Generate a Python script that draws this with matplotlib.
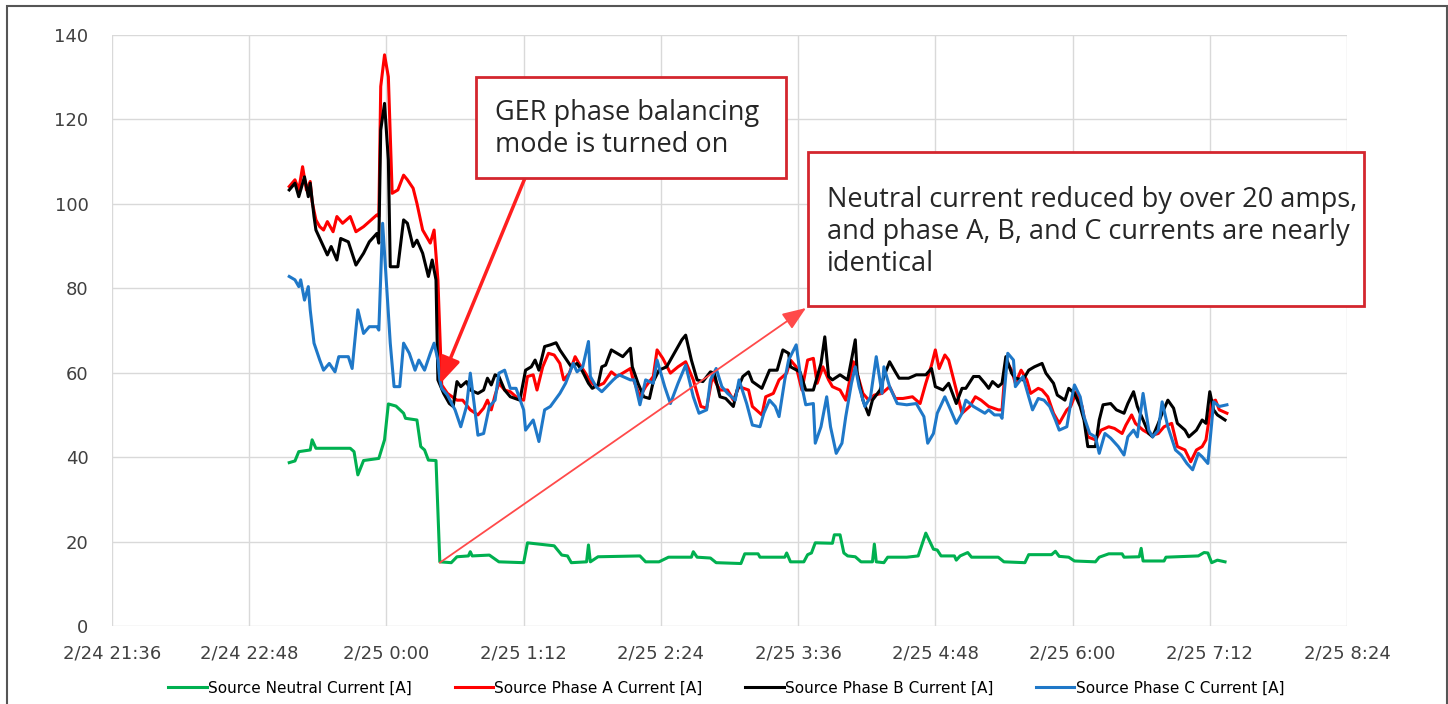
import numpy as np
import pandas as pd
import matplotlib
matplotlib.use("Agg")
import matplotlib.pyplot as plt
import matplotlib.dates as mdates
from matplotlib.patches import Rectangle

# time axis: minutes relative to 2/25 0:00
midnight = pd.Timestamp("2021-02-25 00:00")

tick_minutes = [-144, -72, 0, 72, 144, 216, 288, 360, 432, 504]
tick_labels = ["2/24 21:36", "2/24 22:48", "2/25 0:00", "2/25 1:12", "2/25 2:24",
               "2/25 3:36", "2/25 4:48", "2/25 6:00", "2/25 7:12", "2/25 8:24"]
y_ticks = [0, 20, 40, 60, 80, 100, 120, 140]

series_names = ["Source Neutral Current [A]", "Source Phase A Current [A]",
                "Source Phase B Current [A]", "Source Phase C Current [A]"]
series_colors = ["#00b050", "#ff0000", "#000000", "#1f78c8"]

neutral_t = [-51, -48, -46, -40, -39, -37, -19, -17, -15, -12,
             -4, -1, 1, 5, 9, 10, 16, 18, 20, 22,
             26, 28, 34, 37, 43, 44, 45, 54, 59, 72,
             74, 80, 88, 92, 95, 97, 105, 106, 107, 111,
             133, 136, 143, 148, 160, 161, 163, 170, 173, 186,
             188, 195, 196, 209, 210, 212, 219, 221, 223, 225,
             234, 235, 238, 240, 242, 246, 249, 255, 256, 257,
             261, 263, 273, 279, 283, 287, 289, 291, 298, 299,
             301, 305, 307, 321, 324, 335, 337, 349, 351, 353,
             358, 361, 372, 374, 379, 386, 387, 395, 396, 397,
             408, 409, 426, 429, 431, 433, 436, 440]
neutral_a = [38.7, 39.1, 41.3, 41.7, 44.1, 42.1, 42.1, 41.3, 35.8, 39.2,
             39.7, 44.1, 52.6, 52.1, 50.4, 49.2, 48.8, 42.5, 41.7, 39.3,
             39.2, 15.2, 15.0, 16.4, 16.6, 17.6, 16.6, 16.8, 15.2, 15.0,
             19.7, 19.4, 19.0, 16.8, 16.6, 15.0, 15.2, 19.2, 15.2, 16.4,
             16.6, 15.2, 15.2, 16.3, 16.3, 17.6, 16.3, 16.1, 15.0, 14.8,
             17.1, 17.1, 16.3, 16.3, 17.3, 15.2, 15.2, 16.9, 17.3, 19.7,
             19.6, 21.6, 21.6, 17.3, 16.6, 16.4, 15.2, 15.2, 19.4, 15.2,
             15.0, 16.3, 16.3, 16.6, 22.0, 18.2, 18.0, 16.6, 16.6, 15.6,
             16.6, 17.4, 16.3, 16.3, 15.2, 15.0, 16.9, 16.9, 17.7, 16.5,
             16.3, 15.4, 15.2, 16.3, 17.1, 17.1, 16.3, 16.4, 18.4, 15.4,
             15.4, 16.3, 16.6, 17.4, 17.3, 15.0, 15.6, 15.2]

phase_a_t = [-51, -48, -46, -44, -42, -40, -39, -37, -35, -33,
             -31, -28, -26, -23, -19, -16, -12, -9, -5, -4,
             -3, -1, 1, 3, 6, 9, 11, 14, 16, 19,
             23, 25, 27, 29, 32, 37, 40, 44, 48, 51,
             53, 55, 57, 59, 62, 65, 69, 72, 74, 77,
             79, 82, 85, 88, 91, 93, 96, 99, 101, 104,
             107, 110, 114, 118, 121, 128, 129, 133, 136, 140,
             142, 145, 149, 153, 157, 161, 165, 168, 171, 175,
             179, 182, 185, 190, 192, 197, 199, 203, 206, 210,
             212, 215, 218, 221, 224, 226, 229, 232, 234, 238,
             241, 245, 246, 250, 253, 256, 260, 264, 267, 271,
             276, 280, 283, 286, 288, 290, 293, 295, 299, 302,
             306, 309, 312, 316, 321, 323, 325, 328, 330, 333,
             336, 338, 342, 344, 347, 350, 353, 357, 359, 362,
             365, 368, 372, 375, 379, 382, 386, 388, 391, 393,
             397, 400, 402, 405, 408, 412, 415, 419, 422, 425,
             428, 430, 433, 435, 437, 441]
phase_a = [104.1, 105.7, 103.3, 108.8, 103.3, 105.3, 100.5, 96.2, 94.6, 93.8,
           95.8, 93.4, 97.0, 95.4, 97.0, 93.4, 94.6, 95.8, 97.4, 97.0,
           127.8, 135.3, 130.1, 102.5, 103.3, 106.8, 105.7, 103.7, 100.1, 93.8,
           90.7, 93.8, 82.0, 57.1, 55.1, 53.5, 53.5, 51.2, 50.0, 51.6,
           53.5, 51.2, 54.7, 57.5, 55.9, 55.5, 53.9, 53.5, 59.1, 59.5,
           55.9, 61.4, 64.6, 64.2, 62.2, 58.3, 59.9, 63.8, 62.2, 60.2,
           57.9, 56.7, 57.5, 60.2, 59.1, 61.0, 59.1, 54.3, 56.7, 59.1,
           65.4, 63.4, 59.9, 61.4, 62.6, 58.3, 52.0, 51.6, 59.1, 55.9,
           55.9, 53.5, 56.7, 55.9, 52.0, 50.0, 54.3, 55.1, 58.3, 59.9,
           63.0, 61.4, 55.9, 63.0, 63.4, 57.5, 61.4, 58.3, 56.7, 55.9,
           53.5, 62.6, 61.4, 55.1, 53.5, 54.7, 55.1, 56.7, 53.9, 53.9,
           54.3, 52.7, 57.5, 61.8, 65.4, 61.0, 64.2, 63.0, 55.9, 50.4,
           52.0, 54.3, 53.5, 52.0, 51.2, 51.2, 63.0, 60.6, 57.5, 60.6,
           58.3, 55.1, 56.3, 55.9, 54.3, 50.4, 48.0, 51.2, 52.0, 55.5,
           52.0, 44.8, 44.1, 46.4, 47.2, 46.8, 45.6, 47.6, 50.0, 48.0,
           46.4, 45.6, 45.2, 45.6, 47.2, 48.0, 42.5, 41.7, 38.9, 41.7,
           42.5, 44.1, 53.1, 53.5, 51.2, 50.4]

phase_b_t = [-51, -48, -46, -43, -41, -40, -38, -37, -33, -31,
             -29, -26, -24, -20, -16, -12, -9, -5, -4, -3,
             -1, 1, 2, 6, 9, 11, 14, 16, 19, 22,
             24, 26, 27, 30, 33, 35, 37, 39, 42, 44,
             48, 51, 53, 55, 57, 59, 62, 65, 70, 73,
             76, 78, 80, 83, 86, 89, 91, 94, 97, 100,
             103, 106, 108, 111, 113, 115, 118, 121, 124, 128,
             129, 132, 135, 138, 140, 143, 147, 151, 155, 157,
             160, 163, 166, 170, 172, 175, 178, 182, 184, 187,
             190, 192, 197, 201, 205, 208, 211, 212, 217, 220,
             224, 228, 230, 232, 234, 238, 242, 246, 247, 250,
             253, 255, 259, 261, 264, 267, 269, 274, 278, 283,
             286, 288, 292, 295, 299, 302, 304, 308, 311, 314,
             316, 318, 321, 323, 325, 328, 330, 334, 337, 340,
             344, 346, 350, 352, 356, 358, 361, 364, 366, 368,
             372, 374, 376, 380, 383, 387, 389, 392, 394, 397,
             400, 402, 405, 407, 410, 413, 415, 419, 421, 425,
             428, 430, 432, 434, 436, 440]
phase_b = [103.3, 104.9, 101.7, 106.4, 101.7, 104.9, 97.0, 93.8, 89.9, 87.9,
           89.9, 86.7, 91.8, 91.0, 85.5, 88.3, 91.0, 93.0, 90.7, 117.5,
           123.8, 110.4, 85.1, 85.1, 96.2, 95.4, 89.9, 91.4, 88.3, 82.8,
           86.7, 82.0, 58.3, 55.1, 52.7, 52.0, 57.9, 56.7, 57.9, 55.9,
           55.1, 55.9, 58.7, 57.1, 59.5, 59.1, 55.9, 54.3, 53.5, 60.6,
           61.4, 63.0, 60.6, 66.2, 66.6, 67.1, 65.4, 63.4, 61.4, 62.2,
           60.2, 57.5, 56.3, 57.1, 61.4, 61.8, 65.4, 64.6, 63.8, 65.8,
           61.4, 57.5, 54.3, 53.9, 57.9, 60.6, 61.4, 64.6, 67.8, 68.9,
           63.0, 58.3, 57.9, 60.2, 59.9, 54.3, 53.9, 52.0, 55.9, 59.1,
           60.2, 57.9, 56.3, 60.6, 60.6, 65.4, 64.6, 61.4, 60.2, 55.9,
           55.9, 62.2, 68.5, 59.1, 58.3, 59.5, 58.3, 67.8, 59.9, 53.5,
           50.0, 53.5, 55.9, 59.1, 62.6, 60.2, 58.7, 58.7, 59.5, 59.5,
           61.0, 56.7, 55.9, 57.5, 52.7, 56.3, 56.3, 59.1, 59.1, 57.5,
           56.3, 57.9, 56.7, 57.5, 63.8, 59.9, 58.7, 58.3, 60.6, 61.4,
           62.2, 59.9, 57.5, 54.7, 53.5, 56.3, 55.1, 52.0, 48.8, 42.5,
           42.5, 48.8, 52.4, 52.7, 51.2, 50.4, 52.7, 55.5, 52.0, 48.8,
           45.6, 44.8, 48.0, 50.4, 53.5, 51.6, 48.0, 46.4, 44.8, 46.4,
           48.8, 48.0, 55.5, 51.2, 50.0, 48.8]

phase_c_t = [-51, -48, -46, -45, -43, -41, -40, -38, -35, -33,
             -30, -27, -25, -20, -18, -15, -12, -9, -5, -4,
             -2, 0, 2, 4, 7, 9, 12, 15, 17, 20,
             23, 25, 27, 28, 29, 32, 36, 39, 42, 44,
             46, 48, 51, 54, 57, 59, 62, 65, 68, 72,
             73, 77, 80, 83, 86, 91, 94, 98, 100, 103,
             106, 107, 110, 113, 119, 122, 128, 130, 133, 136,
             140, 142, 146, 149, 153, 157, 161, 164, 168, 170,
             173, 176, 179, 183, 185, 189, 192, 196, 198, 201,
             204, 206, 209, 211, 215, 218, 220, 224, 225, 228,
             231, 233, 236, 239, 241, 244, 246, 248, 251, 254,
             257, 260, 261, 264, 268, 273, 278, 282, 284, 287,
             289, 293, 296, 299, 302, 304, 308, 311, 314, 316,
             319, 322, 323, 326, 329, 330, 334, 337, 339, 342,
             345, 348, 351, 353, 357, 359, 361, 364, 366, 369,
             372, 374, 377, 380, 384, 387, 389, 392, 394, 397,
             400, 402, 405, 407, 410, 414, 417, 420, 423, 426,
             428, 431, 433, 434, 437, 441]
phase_c = [82.8, 82.0, 80.4, 82.0, 77.2, 80.4, 74.9, 67.0, 63.0, 60.6,
           62.2, 60.2, 63.8, 63.8, 61.0, 74.9, 69.3, 70.9, 70.9, 70.1,
           95.4, 81.2, 67.0, 56.7, 56.7, 67.0, 64.6, 60.6, 63.0, 60.6,
           64.6, 67.0, 63.0, 58.3, 56.3, 54.7, 51.2, 47.2, 52.0, 59.9,
           52.7, 45.2, 45.6, 52.0, 53.5, 59.9, 60.6, 56.3, 56.3, 51.2,
           46.4, 48.8, 43.7, 51.2, 52.0, 55.1, 57.5, 62.2, 60.2, 61.4,
           67.4, 59.1, 56.7, 55.5, 58.3, 59.5, 58.3, 58.3, 52.4, 58.3,
           57.5, 63.0, 56.7, 52.7, 57.5, 61.8, 54.3, 50.4, 51.2, 58.3,
           61.0, 56.7, 55.1, 53.5, 58.3, 52.7, 47.6, 47.2, 50.4, 53.5,
           52.0, 49.6, 58.3, 63.0, 66.6, 56.7, 52.4, 52.7, 43.3, 47.2,
           54.3, 47.2, 40.9, 43.3, 49.6, 57.5, 61.4, 56.7, 52.0, 54.3,
           63.8, 55.1, 61.4, 56.7, 52.7, 52.4, 52.7, 49.6, 43.3, 45.6,
           50.4, 54.3, 51.2, 48.0, 50.4, 53.5, 52.0, 51.2, 50.4, 51.2,
           50.0, 50.0, 49.2, 64.6, 63.0, 56.7, 59.1, 54.3, 51.2, 53.9,
           53.5, 52.0, 48.8, 46.4, 47.2, 52.7, 57.1, 54.3, 49.6, 45.6,
           44.8, 40.9, 45.6, 44.5, 42.5, 40.5, 44.8, 46.4, 44.8, 55.1,
           46.4, 44.8, 46.4, 53.1, 47.2, 41.7, 40.5, 38.5, 37.0, 40.9,
           40.1, 38.5, 48.0, 53.1, 52.0, 52.4]

note_1 = "GER phase balancing\nmode is turned on"
note_2 = ("Neutral current reduced by over 20 amps,\n"
          "and phase A, B, and C currents are nearly\nidentical")


def to_num(mins):
    return mdates.date2num((midnight + pd.to_timedelta(mins, unit="min")).to_pydatetime())


W, H = 1448, 704
fig = plt.figure(figsize=(W / 100, H / 100), dpi=100)
ax = fig.add_axes([112 / W, 1 - 626 / H, (1347 - 112) / W, (626 - 35) / H])

series = [(neutral_t, neutral_a), (phase_a_t, phase_a),
          (phase_b_t, phase_b), (phase_c_t, phase_c)]
for (t, v), name, col in zip(series, series_names, series_colors):
    ax.plot(to_num(t), v, color=col, lw=2.2, label=name, solid_joinstyle="round")

ax.set_xlim(to_num([tick_minutes[0]])[0], to_num([tick_minutes[-1]])[0])
ax.set_ylim(0, 140)
ax.set_xticks(to_num(tick_minutes))
ax.set_xticklabels(tick_labels)
ax.set_yticks(y_ticks)
ax.grid(True, color="#d9d9d9", lw=1.0)
ax.set_axisbelow(True)
for s in ax.spines.values():
    s.set_visible(False)
ax.tick_params(axis="both", length=0, labelsize=13, labelcolor="#404040")
ax.tick_params(axis="y", pad=17)
ax.tick_params(axis="x", pad=13)
for lab in ax.get_xticklabels() + ax.get_yticklabels():
    lab.set_fontfamily("DejaVu Sans")

handles, labels = ax.get_legend_handles_labels()
fig.legend(handles, labels, loc="center", bbox_to_anchor=(0.5017, 0.0227), ncol=4,
           frameon=False, handlelength=2.5, handletextpad=0.1, columnspacing=2.8,
           prop={"family": "DejaVu Sans", "size": 11})

# arrows
ax.annotate("", xy=(to_num([28])[0], 57.3), xycoords="data",
            xytext=(525 / W, 1 - 178 / H), textcoords="figure fraction",
            arrowprops=dict(arrowstyle="-|>,head_length=0.8,head_width=0.3",
                            color="#ff1f1f", lw=2.5, shrinkA=0, shrinkB=0,
                            mutation_scale=20))
ax.annotate("", xy=(806 / W, 1 - 308 / H), xycoords="figure fraction",
            xytext=(to_num([28])[0], 15.0), textcoords="data",
            arrowprops=dict(arrowstyle="-|>,head_length=0.9,head_width=0.35",
                            color="#ff4a4a", lw=1.3, shrinkA=0, shrinkB=0,
                            mutation_scale=16))

# annotation boxes
box_col = "#d4262e"
fig.add_artist(Rectangle((476 / W, 1 - 178 / H), 310 / W, 101 / H, transform=fig.transFigure,
                         facecolor="white", edgecolor=box_col, lw=2, zorder=5))
fig.text(495 / W, 1 - 129 / H, note_1, ha="left", va="center", fontsize=19.5,
         family="Open Sans", color="#262626", linespacing=1.18, zorder=6)
fig.add_artist(Rectangle((808 / W, 1 - 306 / H), 556 / W, 154 / H, transform=fig.transFigure,
                         facecolor="white", edgecolor=box_col, lw=2, zorder=5))
fig.text(827 / W, 1 - 232 / H, note_2, ha="left", va="center", fontsize=19.5,
         family="Open Sans", color="#262626", linespacing=1.18, zorder=6)

# outer frame
fig.add_artist(Rectangle((7 / W, -0.05), 1439.5 / W, 1.05 - 6 / H, transform=fig.transFigure,
                         fill=False, edgecolor="#555555", lw=1.5, zorder=10))

fig.savefig("out.png", dpi=100)
